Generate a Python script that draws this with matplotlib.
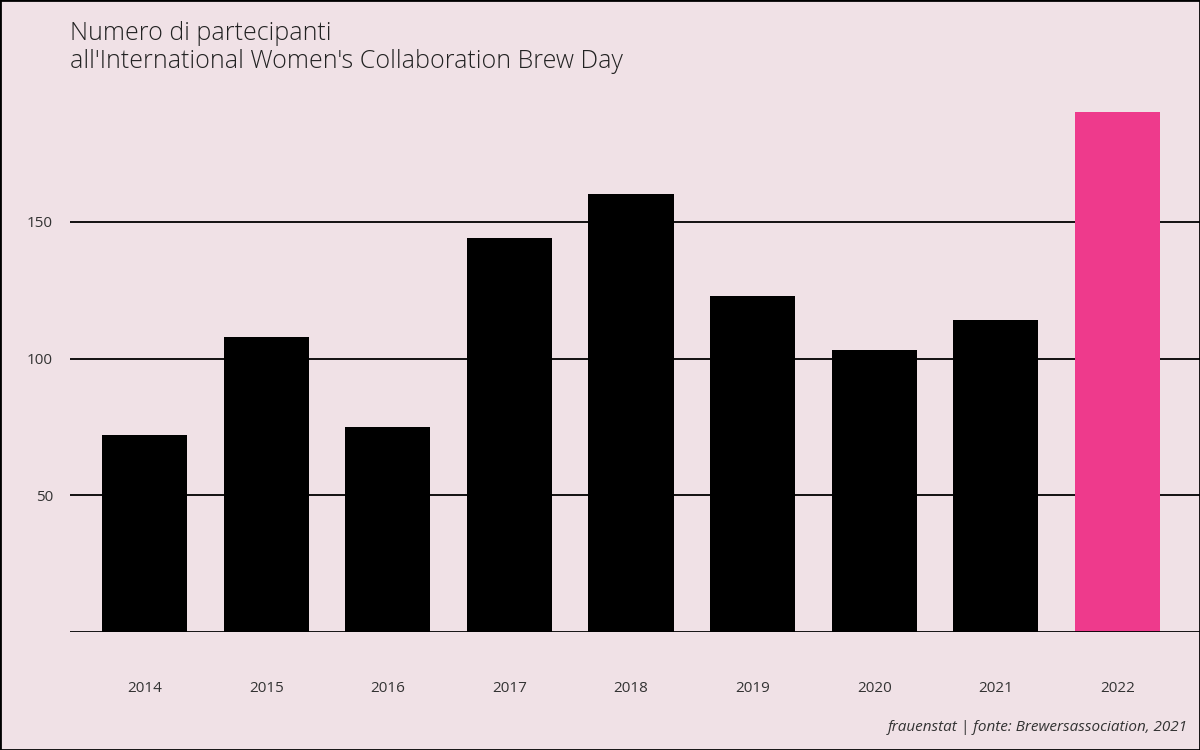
import matplotlib
matplotlib.use("Agg")
import matplotlib.pyplot as plt

years = ["2014","2015","2016","2017","2018","2019","2020","2021","2022"]
values = [72,108,75,144,160,123,103,114,190]
colors = ["black"]*8 + ["#ee3a8c"]

plt.rcParams['font.family'] = ['Open Sans', 'DejaVu Sans']
bg = "#f0e1e6"
fig = plt.figure(figsize=(12,7.5), dpi=100, facecolor=bg)
fig.patches.append(plt.Rectangle((0,0),1,1,transform=fig.transFigure,fill=False,edgecolor="black",lw=2))
ax = fig.add_axes([0.058,0.157,0.942,0.73], facecolor=bg)
x = range(len(years))
ax.bar(x, values, width=0.7, color=colors, zorder=3)
ax.set_xlim(-0.617, 8.68)
ax.set_ylim(0, 200)
ax.set_yticks([50,100,150])
ax.yaxis.grid(True, color="black", lw=1.3, zorder=0)
ax.axhline(0, color="black", lw=2, zorder=4)
ax.set_xticks(list(x))
ax.set_xticklabels(years)
ax.tick_params(length=0, labelsize=11, colors="#333333", pad=12)
ax.tick_params(axis='x', pad=35)
for s in ax.spines.values(): s.set_visible(False)
fig.text(0.058, 0.955, "Numero di partecipanti", fontsize=18, color="#222222", va="center", fontweight="light")
fig.text(0.058, 0.918, "all'International Women's Collaboration Brew Day", fontsize=18, color="#222222", va="center", fontweight="light")
fig.text(0.99, 0.025, "frauenstat | fonte: Brewersassociation, 2021", fontsize=11, style="italic", ha="right", color="#333333")
fig.savefig("out.png", facecolor=bg)
